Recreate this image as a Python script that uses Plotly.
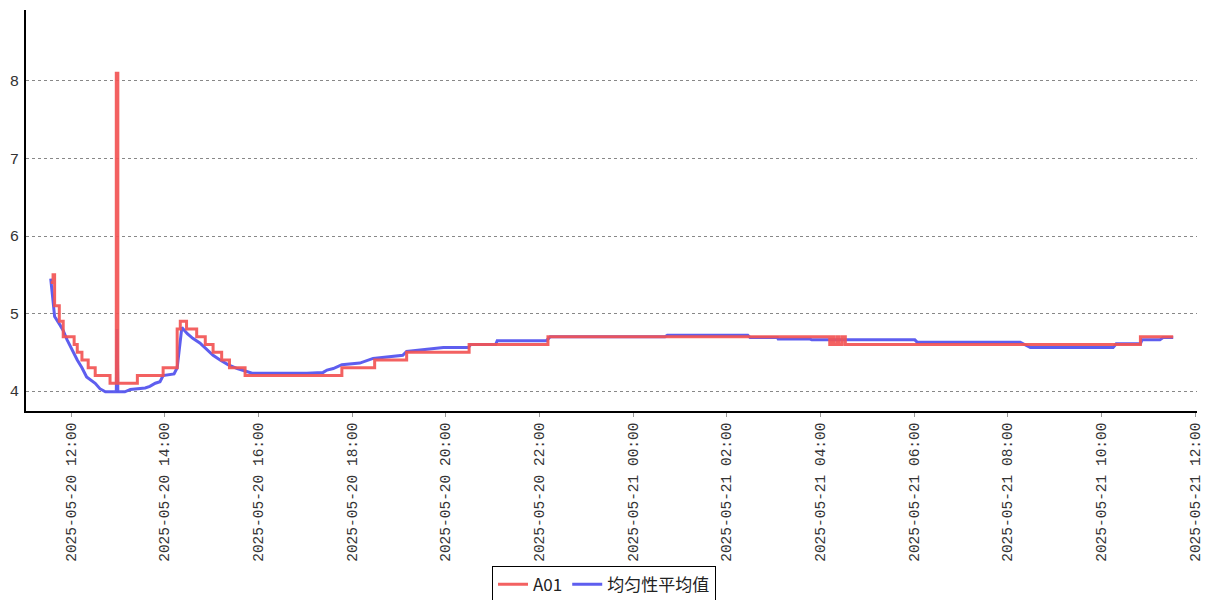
import plotly.graph_objects as go

# A01 series (step changes)
a01_time = [
    "2025-05-20 11:34", "2025-05-20 11:37", "2025-05-20 11:39", "2025-05-20 11:45",
    "2025-05-20 11:50", "2025-05-20 12:04", "2025-05-20 12:08", "2025-05-20 12:14",
    "2025-05-20 12:22", "2025-05-20 12:31", "2025-05-20 12:50", "2025-05-20 12:58",
    "2025-05-20 13:00", "2025-05-20 13:25", "2025-05-20 13:58", "2025-05-20 14:16",
    "2025-05-20 14:20", "2025-05-20 14:28", "2025-05-20 14:41", "2025-05-20 14:52",
    "2025-05-20 15:02", "2025-05-20 15:13", "2025-05-20 15:23", "2025-05-20 15:43",
    "2025-05-20 17:47", "2025-05-20 18:29", "2025-05-20 19:10", "2025-05-20 20:30",
    "2025-05-20 22:11", "2025-05-21 04:12", "2025-05-21 04:15", "2025-05-21 04:17",
    "2025-05-21 04:21", "2025-05-21 04:24", "2025-05-21 04:28", "2025-05-21 04:32",
    "2025-05-21 10:50", "2025-05-21 11:32",
]
a01_value = [
    5.4, 5.5, 5.1, 4.9,
    4.7, 4.6, 4.5, 4.4,
    4.3, 4.2, 4.1, 8.1,
    4.1, 4.2, 4.3, 4.8,
    4.9, 4.8, 4.7, 4.6,
    4.5, 4.4, 4.3, 4.2,
    4.3, 4.4, 4.5, 4.6,
    4.7, 4.6, 4.7, 4.6,
    4.7, 4.6, 4.7, 4.6,
    4.7, 4.7,
]

# 均匀性平均值 series
avg_time = [
    "2025-05-20 11:34", "2025-05-20 11:36", "2025-05-20 11:39", "2025-05-20 11:46",
    "2025-05-20 11:50", "2025-05-20 11:55", "2025-05-20 12:01", "2025-05-20 12:08",
    "2025-05-20 12:14", "2025-05-20 12:20", "2025-05-20 12:31", "2025-05-20 12:37",
    "2025-05-20 12:44", "2025-05-20 12:58", "2025-05-20 12:59", "2025-05-20 13:00",
    "2025-05-20 13:09", "2025-05-20 13:16", "2025-05-20 13:35", "2025-05-20 13:41",
    "2025-05-20 13:48", "2025-05-20 13:54", "2025-05-20 13:58", "2025-05-20 14:12",
    "2025-05-20 14:16", "2025-05-20 14:22", "2025-05-20 14:29", "2025-05-20 14:36",
    "2025-05-20 14:45", "2025-05-20 14:54", "2025-05-20 15:02", "2025-05-20 15:11",
    "2025-05-20 15:21", "2025-05-20 15:33", "2025-05-20 15:47", "2025-05-20 15:52",
    "2025-05-20 17:02", "2025-05-20 17:23", "2025-05-20 17:28", "2025-05-20 17:36",
    "2025-05-20 17:47", "2025-05-20 18:10", "2025-05-20 18:27", "2025-05-20 19:05",
    "2025-05-20 19:10", "2025-05-20 19:40", "2025-05-20 19:57", "2025-05-20 20:29",
    "2025-05-20 20:32", "2025-05-20 21:04", "2025-05-20 21:06", "2025-05-20 22:09",
    "2025-05-20 22:14", "2025-05-21 00:41", "2025-05-21 00:44", "2025-05-21 02:27",
    "2025-05-21 02:30", "2025-05-21 03:05", "2025-05-21 03:06", "2025-05-21 03:47",
    "2025-05-21 03:49", "2025-05-21 06:01", "2025-05-21 06:04", "2025-05-21 08:16",
    "2025-05-21 08:29", "2025-05-21 10:15", "2025-05-21 10:19", "2025-05-21 10:50",
    "2025-05-21 10:52", "2025-05-21 11:15", "2025-05-21 11:19", "2025-05-21 11:32",
]
avg_value = [
    5.45, 5.25, 4.96, 4.85,
    4.78, 4.66, 4.53, 4.40,
    4.30, 4.18, 4.10, 4.03,
    3.99, 3.99, 4.80, 3.99,
    3.99, 4.02, 4.04, 4.06,
    4.10, 4.12, 4.20, 4.22,
    4.30, 4.82, 4.74, 4.68,
    4.62, 4.53, 4.46, 4.40,
    4.34, 4.29, 4.25, 4.23,
    4.23, 4.24, 4.27, 4.29,
    4.34, 4.36, 4.42, 4.46,
    4.51, 4.54, 4.56, 4.56,
    4.60, 4.60, 4.65, 4.65,
    4.70, 4.70, 4.72, 4.72,
    4.69, 4.69, 4.67, 4.67,
    4.66, 4.66, 4.63, 4.63,
    4.56, 4.56, 4.61, 4.61,
    4.66, 4.66, 4.69, 4.69,
]

x_range = ["2025-05-20 11:02:20", "2025-05-21 12:02:30"]
y_range = [3.742, 8.916]

fig = go.Figure()
fig.add_trace(go.Scatter(
    x=avg_time, y=avg_value, mode="lines", name="均匀性平均值",
    line=dict(color="rgba(85,85,238,0.95)", width=3),
))
fig.add_trace(go.Scatter(
    x=a01_time, y=a01_value, mode="lines", name="A01",
    line=dict(color="rgba(242,84,84,0.92)", width=3, shape="hv"),
))

tick_font = dict(family="Liberation Mono, DejaVu Sans Mono, monospace", size=14.5, color="#333333")

fig.update_layout(
    width=1207, height=600,
    margin=dict(l=26, r=10, t=10, b=189, autoexpand=False),
    paper_bgcolor="white", plot_bgcolor="white",
    showlegend=True,
    legend=dict(
        orientation="h", traceorder="reversed",
        x=0.4936, xanchor="center", y=-0.386, yanchor="top",
        bordercolor="black", borderwidth=1, bgcolor="white",
        font=dict(family="Noto Sans CJK SC, Liberation Serif, serif", size=17, color="#222222"),
        itemwidth=30, tracegroupgap=0,
    ),
    xaxis=dict(
        type="date", range=x_range, automargin=False,
        tick0="2025-05-20 12:00", dtick=2 * 3600 * 1000,
        tickformat="%Y-%m-%d %H:%M", tickangle=-90,
        tickfont=tick_font,
        showgrid=False, zeroline=False,
        showline=True, linecolor="black", linewidth=1.5,
        ticks="outside", ticklen=4, tickcolor="#999999",
    ),
    yaxis=dict(
        range=y_range, tickvals=[4, 5, 6, 7, 8], automargin=False,
        tickfont=dict(family="Liberation Mono, DejaVu Sans Mono, monospace", size=15.5, color="#333333"),
        showgrid=True, gridcolor="#888888", griddash="dot", gridwidth=1,
        zeroline=False,
        showline=True, linecolor="black", linewidth=1.5,
        ticks="", ticklabelstandoff=2,
    ),
)

fig.write_html(
    "out.html",
    config={"displayModeBar": False},
    post_script="document.body.style.margin='0';document.body.style.overflow='hidden';",
)
